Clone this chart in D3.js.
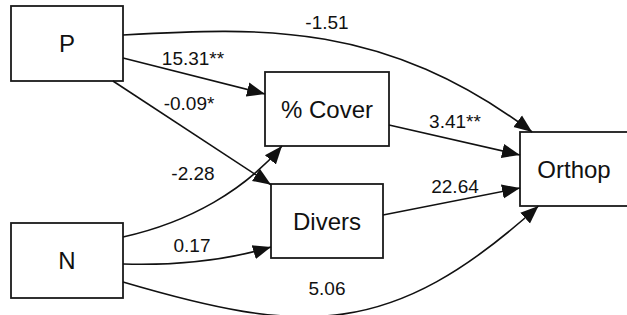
<!DOCTYPE html>
<html>
<head>
<meta charset="utf-8">
<script src="https://cdn.jsdelivr.net/npm/d3@7"></script>
<style>
  body { margin: 0; background: #fff; }
  text { font-family: "Liberation Sans", Arial, Helvetica, sans-serif; fill: #111; }
</style>
</head>
<body>
<div id="diagram"></div>
<script>

var svgWidth = 627;
var svgHeight = 315;

// Path model data
var nodeNames = ["P", "N", "% Cover", "Divers", "Orthop"];
var edgeFrom = ["P", "P", "P", "N", "N", "N", "% Cover", "Divers"];
var edgeTo = ["Orthop", "% Cover", "Divers", "% Cover", "Divers", "Orthop", "Orthop", "Orthop"];
var coefficients = [-1.51, 15.31, -0.09, -2.28, 0.17, 5.06, 3.41, 22.64];
var significance = ["", "**", "*", "", "", "", "**", ""];

// Layout: boxes as [x, y, w, h]
var boxes = {
  "P": [11, 6, 112, 75],
  "N": [11, 223, 112, 75],
  "% Cover": [265, 72, 124, 74],
  "Divers": [271, 184, 112, 74],
  "Orthop": [520, 132, 110, 74]
};

// Layout: where each edge leaves / enters a box, control offsets, label spot
var routes = {
  "P>Orthop":       { s: ["right", 0.387], t: ["top", 0.11],    c1: [140, -8], c2: [-147, -110], label: [327, 29] },
  "P>% Cover":      { s: ["right", 0.693], t: ["left", 0.297],  label: [193, 65] },
  "P>Divers":       { s: ["bottom", 0.91], t: ["left", 0.01],   label: [189, 110] },
  "N>% Cover":      { s: ["right", 0.187], t: ["bottom", 0.137], c1: [67, -15], c2: [-37, 44], label: [193, 180] },
  "N>Divers":       { s: ["right", 0.547], t: ["left", 0.85],   c1: [67, 2], c2: [-36, 11], label: [192, 252] },
  "N>Orthop":       { s: ["right", 0.787], t: ["bottom", 0.168], c1: [180, 53], c2: [-148, 134], label: [327, 295] },
  "% Cover>Orthop": { s: ["right", 0.716], t: ["left", 0.31],   label: [455, 128] },
  "Divers>Orthop":  { s: ["right", 0.42],  t: ["left", 0.757],  label: [455, 193] }
};

var fmt = d3.formatLocale({ decimal: ".", thousands: ",", grouping: [3], currency: ["", ""], minus: "-" }).format(".2f");

function anchor(box, side, f) {
  var x = box[0], y = box[1], w = box[2], h = box[3];
  if (side === "right") return [x + w, y + h * f];
  if (side === "left") return [x, y + h * f];
  if (side === "top") return [x + w * f, y];
  return [x + w * f, y + h];
}

var edges = edgeFrom.map(function(f, i) {
  var key = f + ">" + edgeTo[i];
  var r = routes[key];
  return {
    key: key,
    start: anchor(boxes[f], r.s[0], r.s[1]),
    end: anchor(boxes[edgeTo[i]], r.t[0], r.t[1]),
    c1: r.c1, c2: r.c2,
    label: r.label,
    text: fmt(coefficients[i]) + significance[i]
  };
});

var svg = d3.select("#diagram")
  .append("svg")
  .attr("width", svgWidth)
  .attr("height", svgHeight);

svg.append("defs").append("marker")
  .attr("id", "arrow")
  .attr("markerUnits", "userSpaceOnUse")
  .attr("viewBox", "0 -8 18 16")
  .attr("refX", 18)
  .attr("refY", 0)
  .attr("markerWidth", 18)
  .attr("markerHeight", 16)
  .attr("orient", "auto")
  .append("path")
  .attr("d", "M0,-7.2L18,0L0,7.2Z")
  .attr("fill", "#111");

function edgePath(e) {
  var p = d3.path();
  p.moveTo(e.start[0], e.start[1]);
  if (e.c1) {
    p.bezierCurveTo(e.start[0] + e.c1[0], e.start[1] + e.c1[1],
                    e.end[0] + e.c2[0], e.end[1] + e.c2[1],
                    e.end[0], e.end[1]);
  } else {
    p.lineTo(e.end[0], e.end[1]);
  }
  return p.toString();
}

// Boxes
var nodeGroup = svg.selectAll("g.node")
  .data(nodeNames)
  .enter()
  .append("g")
  .attr("class", "node");

nodeGroup.append("rect")
  .attr("x", d => boxes[d][0])
  .attr("y", d => boxes[d][1])
  .attr("width", d => boxes[d][2])
  .attr("height", d => boxes[d][3])
  .attr("fill", "#fff")
  .attr("stroke", "#1a1a1a")
  .attr("stroke-width", 1.8);

nodeGroup.append("text")
  .attr("x", d => boxes[d][0] + boxes[d][2] / 2 - (d === "Orthop" ? 1 : 0))
  .attr("y", d => boxes[d][1] + boxes[d][3] / 2 + 8.5)
  .attr("text-anchor", "middle")
  .attr("font-size", "24px")
  .text(d => d);

// Edges
svg.selectAll("path.edge")
  .data(edges)
  .enter()
  .append("path")
  .attr("class", "edge")
  .attr("d", edgePath)
  .attr("fill", "none")
  .attr("stroke", "#111")
  .attr("stroke-width", 1.6)
  .attr("marker-end", "url(#arrow)");

svg.selectAll("text.coef")
  .data(edges)
  .enter()
  .append("text")
  .attr("class", "coef")
  .attr("x", d => d.label[0])
  .attr("y", d => d.label[1])
  .attr("text-anchor", "middle")
  .attr("font-size", "19px")
  .text(d => d.text);

</script>
</body>
</html>
